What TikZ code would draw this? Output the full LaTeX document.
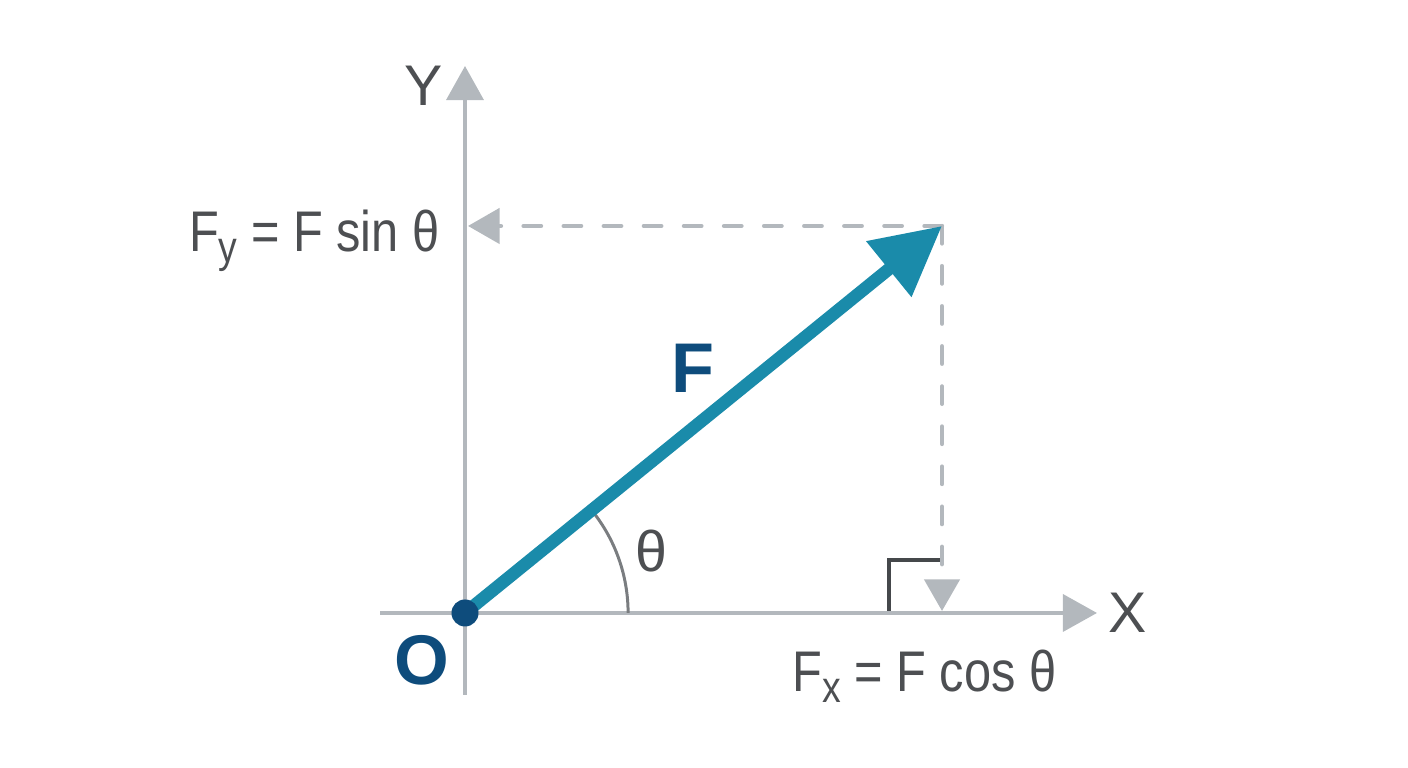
\documentclass[tikz,border=0pt]{standalone}
\usepackage{fontspec}
\setmainfont{Liberation Sans}
\usetikzlibrary{arrows.meta,calc}
\definecolor{axisgray}{HTML}{B3B8BD}
\definecolor{labelgray}{HTML}{4D4F52}
\definecolor{markgray}{HTML}{45484B}
\definecolor{arcgray}{HTML}{7A7D80}
\definecolor{vecteal}{HTML}{1A8BAA}
\definecolor{deepblue}{HTML}{0E4C7C}
\newcommand\subtxt[1]{\raisebox{-2.9pt}{\fontsize{12.5}{14}\selectfont #1}}
\newcommand\narrowtxt[1]{\scalebox{0.85}[1]{#1}}

\begin{document}
\begin{tikzpicture}[x=0.01cm,y=0.01cm,
    axis/.style={draw=axisgray,line width=1.15pt,-{Triangle[length=9.7pt,width=10.5pt]}},
    proj/.style={draw=axisgray,line width=1.2pt,line cap=round,
        dash pattern=on 5pt off 6.4pt,-{Triangle[length=9pt,width=10pt]}},
    vec/.style={draw=vecteal,line width=3.6pt,-{Triangle[length=19.5pt,width=19.5pt]}},
    lbl/.style={text=labelgray,font=\fontsize{16.3}{20}\selectfont,inner sep=0pt},
    boldlbl/.style={text=deepblue,font=\bfseries\fontsize{20}{24}\selectfont,inner sep=0pt},
    dot/.style={circle,fill=deepblue,minimum size=0.27cm,inner sep=0pt}]
    \useasboundingbox (0,0) rectangle (1408,768);

    % points
    \coordinate (orig) at (465,155);
    \coordinate (tip) at (942,542);
    \coordinate (ybot) at (465,73);
    \coordinate (ytop) at (465,702);
    \coordinate (xleft) at (380,155);
    \coordinate (xright) at (1097,155);
    \coordinate (yfoot) at (468,542);
    \coordinate (xfoot) at (942,157);

    % axes
    \path (ybot) edge[axis] (ytop)
          (xleft) edge[axis] (xright);

    % projections
    \path (tip) edge[proj] (yfoot)
          (tip) edge[proj] (xfoot);

    % right angle mark
    \draw[markgray,line width=1.15pt] (889,157) -- (889,208) -- (940,208);

    % angle
    \draw[arcgray,line width=0.85pt] ($(orig)+(1.63cm,0)$)
        arc[start angle=0,end angle=39.05,radius=1.63cm];

    % force
    \draw[vec] (orig) -- (tip);
    \node[dot] (o) at (orig) {};

    % labels
    \node[lbl] (ylab) at (424,682) {Y};
    \node[lbl] (xlab) at (1128,155) {X};
    \node[lbl,anchor=base east] (fylab) at (440,516) {\narrowtxt{F\subtxt{y} = F sin θ}};
    \node[lbl,anchor=base east] (fxlab) at (1057,76) {\narrowtxt{F\subtxt{x} = F cos θ}};
    \node[lbl] (thlab) at (651,217) {θ};
    \node[boldlbl] (flab) at (693,400) {F};
    \node[boldlbl] (olab) at (422,108) {O};
\end{tikzpicture}
\end{document}
